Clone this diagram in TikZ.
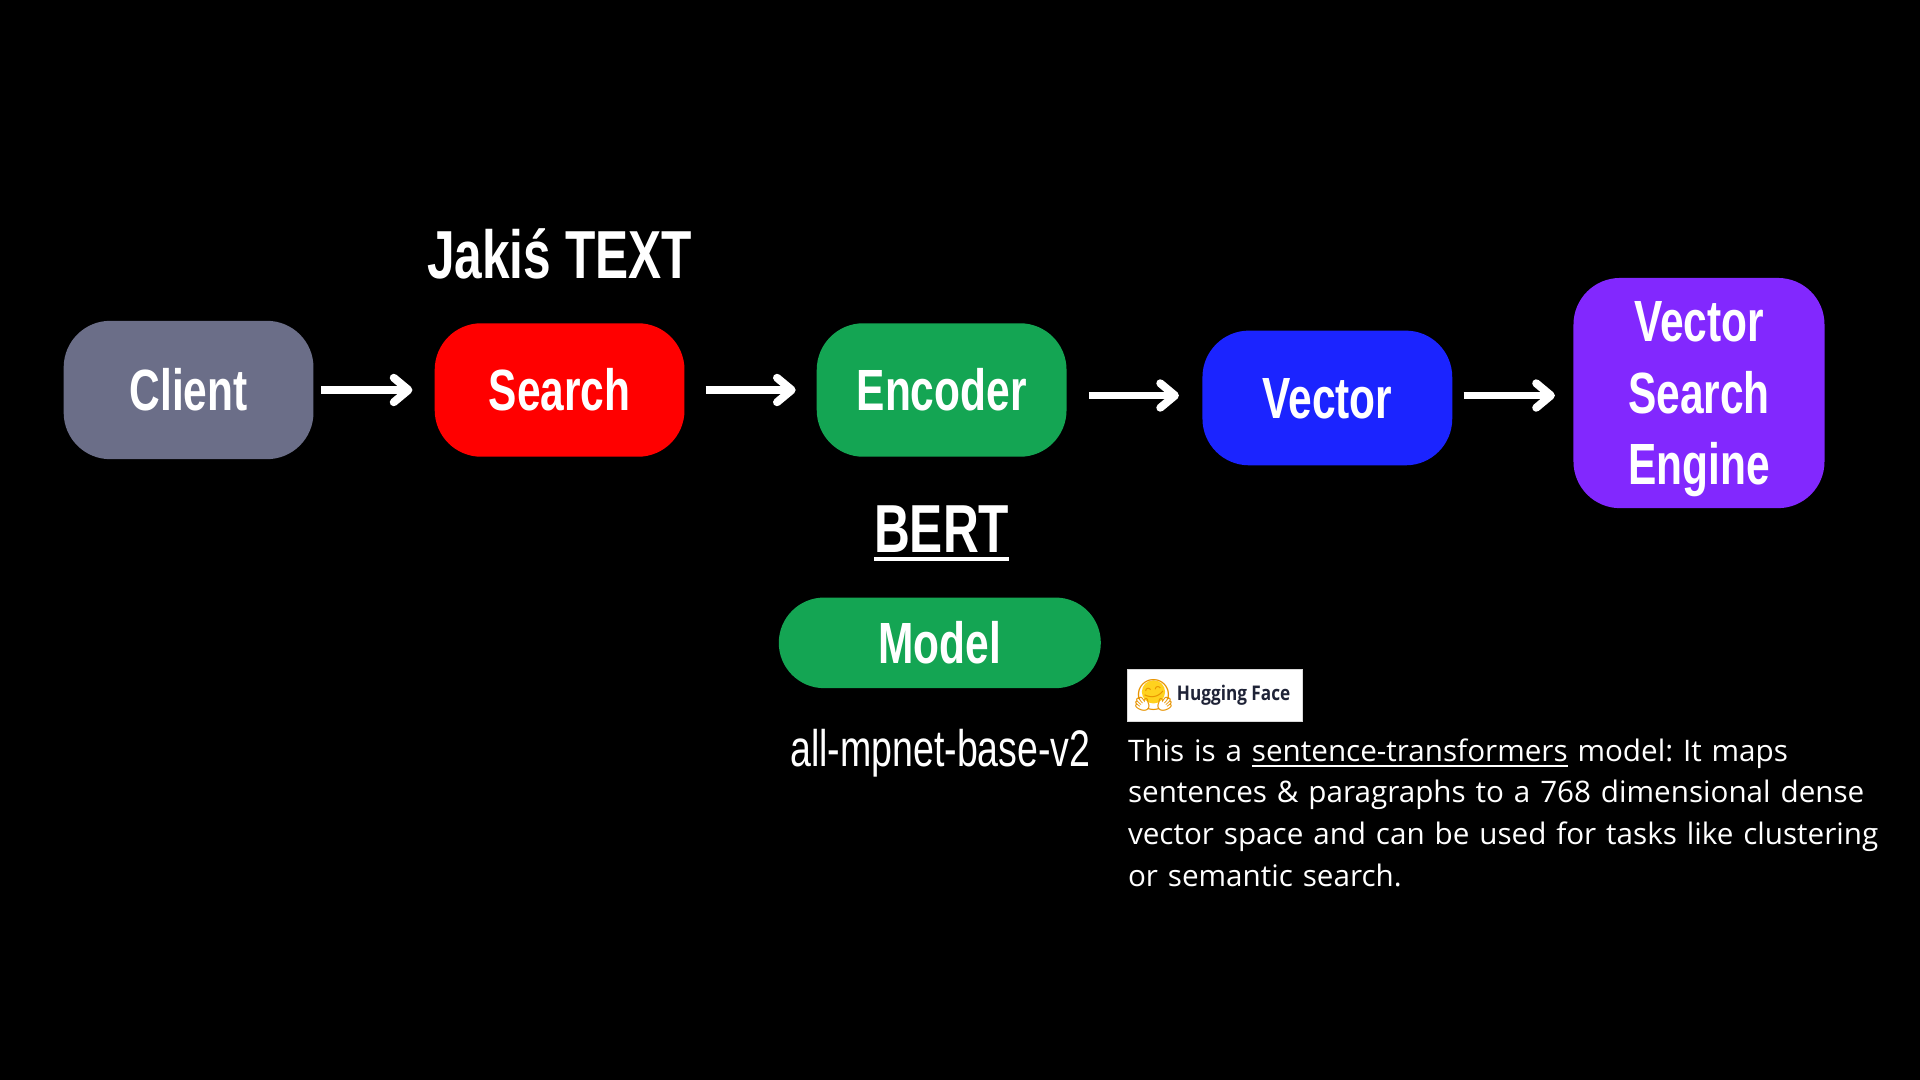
\documentclass[tikz,border=0pt]{standalone}
\usepackage{fontspec}
\usetikzlibrary{arrows.meta}
\setmainfont{Open Sans}
\newfontfamily\condfont[FakeStretch=0.73]{Liberation Sans}
\newfontfamily\hffont[FakeStretch=0.85]{Open Sans}
\newfontfamily\emojifont{Noto Emoji}
\definecolor{clientgrey}{HTML}{6B6E88}
\definecolor{searchred}{HTML}{FF0000}
\definecolor{encgreen}{HTML}{14A553}
\definecolor{vecblue}{HTML}{1B24FF}
\definecolor{vsepurple}{HTML}{8228FE}
\definecolor{hfnavy}{HTML}{1F2337}
\definecolor{hfyellow}{HTML}{FFD21E}
\definecolor{hforange}{HTML}{E89400}
\newcommand\myuline[3]{\leavevmode\setbox0=\hbox{#3}\rlap{\vrule width \wd0 height -#1 depth \dimexpr#1+#2\relax}\box0\relax}
\frenchspacing
\begin{document}
\begin{tikzpicture}[x=1pt,y=1pt,
  stagebox/.style={rounded corners=38pt, minimum width=204pt, minimum height=110pt,
    inner sep=0pt, text=white, font=\condfont\bfseries\fontsize{47.5}{50}\selectfont,
    text height=34pt, text depth=0pt},
  biglabel/.style={inner sep=0pt, text=white, font=\condfont\bfseries\fontsize{47.5}{50}\selectfont},
  title/.style={inner sep=0pt, text=white, font=\condfont\bfseries\fontsize{55.5}{58}\selectfont},
  flow/.style={draw=white, line width=6.5pt,
    -{Straight Barb[length=12pt,width=20pt,line cap=round,line join=round]}}
]
\fill[black] (0,0) rectangle (1568,-882);
\useasboundingbox (0,0) rectangle (1568,-882);

% main boxes
\node[stagebox, fill=clientgrey, minimum height=113pt] (client) at (154,-318.5) {Client};
\node[stagebox, fill=searchred, minimum height=109pt] (search) at (457,-318.5) {Search};
\node[stagebox, fill=encgreen, minimum height=109pt] (encoder) at (769,-318.5) {Encoder};
\node[stagebox, fill=vecblue, minimum height=110pt] (vector) at (1084,-325) {Vector};
\node[stagebox, fill=vsepurple, minimum width=205pt, minimum height=188pt] (vse) at (1387.5,-321) {};
\node[biglabel, anchor=base] (vse1) at (1387.5,-279) {Vector};
\node[biglabel, anchor=base] (vse2) at (1387.5,-338) {Search};
\node[biglabel, anchor=base] (vse3) at (1387.5,-396) {Engine};

% arrows
\coordinate (a3s) at ([yshift=-4.5pt]encoder.east);
\coordinate (a3e) at ([yshift=2pt]vector.west);
\coordinate (a4s) at ([yshift=2pt]vector.east);
\draw[flow, shorten <=6pt, shorten >=18pt] (client.east) -- (search.west);
\draw[flow, shorten <=17pt, shorten >=17pt] (search.east) -- (encoder.west);
\draw[flow, shorten <=18pt, shorten >=19pt] (a3s) -- (a3e);
\draw[flow, shorten <=9pt, shorten >=15pt] (a4s) -- (vse.west |- a4s);

% texts
\node[title, anchor=base] (jakis) at (457,-227.5) {Jakiś TEXT};
\node[title, anchor=base] (bert) at (769,-451) {\myuline{4pt}{3pt}{BERT}};
\node[stagebox, fill=encgreen, rounded corners=37pt, minimum width=263pt, minimum height=74pt] (model) at (767.5,-525) {Model};
\node[inner sep=0pt, text=white, anchor=base, font=\condfont\fontsize{42}{45}\selectfont] (mpnet) at (768,-626) {all-mpnet-base-v2};

% hugging face badge
\node[fill=white, draw=white!85!black, line width=1pt, minimum width=143pt, minimum height=42pt, inner sep=0pt] (badge) at (992.5,-568) {};
\fill[hfyellow] (942,-565) circle (9.5pt);
\node[inner sep=0pt, text=hforange, font=\emojifont\fontsize{25}{25}\selectfont] (hug) at (942,-568) {🤗};
\node[inner sep=0pt, anchor=west, text=hfnavy, font=\hffont\bfseries\fontsize{16.5}{18}\selectfont] (hftext) at (961,-568) {Hugging Face};

% description
\node[inner sep=0pt, anchor=base west, text=white, text width=650pt, align=left,
  font=\fontsize{24.2}{34.2}\selectfont] (desc) at (921,-621.5)
  {This is a \myuline{3pt}{1.8pt}{sentence-transformers} model: It maps\\
   sentences \& paragraphs to a 768 dimensional dense\\
   vector space and can be used for tasks like clustering\\
   or semantic search.};
\end{tikzpicture}
\end{document}
